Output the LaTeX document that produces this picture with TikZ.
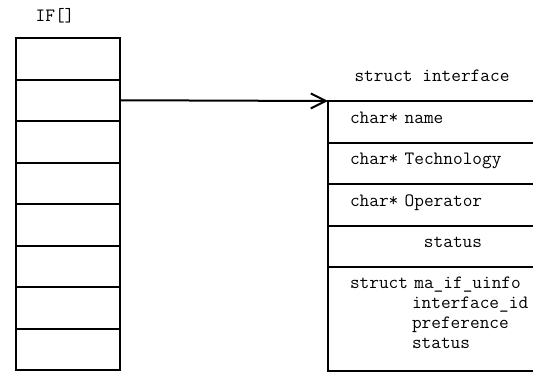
\documentclass[tikz,border=0pt]{standalone}
\usepackage{fontspec}
\usetikzlibrary{matrix,arrows.meta}

\begin{document}
\begin{tikzpicture} [x=1pt, y=-1pt, line width=2pt,
	nodes in empty cells,
	font=\ttfamily\fontsize{18.8}{20.3}\selectfont,
	row sep=-\pgflinewidth, column sep=-\pgflinewidth]
	\useasboundingbox (0,0) rectangle (533,372);
	
	\node (label) at (55,16) {IF[]};
	
	\matrix(array)[matrix of nodes, matrix anchor=array-1-1.north west,
	nodes={draw, outer sep=0pt, minimum width=104pt, minimum height=41.5pt}] at (16,38)
	{
		\\ \\ \\ \\ \\ \\ \\ \\
	};
	
	\node (title) at (432,76) {struct interface};
	
	\matrix(struct)[matrix of nodes, matrix anchor=struct-1-1.north west,
	row 4/.style={nodes={align=center}},
	row 5/.style={nodes={minimum height=104pt, text height=8pt, text depth=70pt}},
	nodes={draw, outer sep=0pt, minimum height=41.5pt, text width=206pt,
		inner xsep=22pt, align=left, text height=8pt, text depth=5pt}] at (328,101)
	{
		char* name \\
		char* Technology \\
		char* Operator \\
		status \\
		struct ma\_if\_uinfo\newline\hspace*{62pt}interface\_id\newline\hspace*{62pt}preference\newline\hspace*{62pt}status \\
	};
	
	\draw[-{Straight Barb[length=15pt, width=15pt]}] (array-2-1.east) -- (struct-1-1.north west);
\end{tikzpicture}
\end{document}
